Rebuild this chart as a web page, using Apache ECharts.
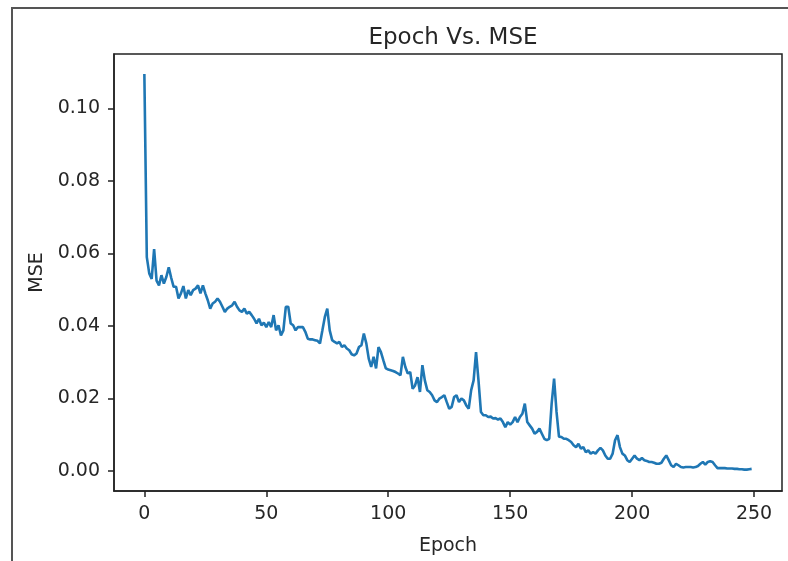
<!DOCTYPE html>
<html>
<head>
<meta charset="utf-8">
<script src="https://cdn.jsdelivr.net/npm/echarts@6/dist/echarts.min.js"></script>
<style>
  html, body { margin: 0; padding: 0; background: #fff; }
  #wrap { position: relative; width: 788px; height: 561px; }
  #chart { width: 788px; height: 561px; }
  /* screenshot frame, top and left edges only */
  #frame { position: absolute; left: 11px; top: 7px; right: 0; bottom: 0;
           border-top: 2px solid #555; border-left: 2px solid #555; pointer-events: none; }
</style>
</head>
<body>
<div id="wrap">
  <div id="chart"></div>
  <div id="frame"></div>
</div>
<script>
// chart texts
const titleText = 'Epoch Vs. MSE'
const xName = 'Epoch'
const yName = 'MSE'

// tick labels
const xTicks = [0, 50, 100, 150, 200, 250]
const yTicks = [0, 0.02, 0.04, 0.06, 0.08, 0.10]

// MSE per epoch, epochs 0..249
const mse = [
  0.1095, 0.0590, 0.0545, 0.0530, 0.0612, 0.0525, 0.0512, 0.0540, 0.0517, 0.0535,
  0.0562, 0.0533, 0.0508, 0.0508, 0.0476, 0.0490, 0.0510, 0.0476, 0.0499, 0.0485,
  0.0499, 0.0503, 0.0512, 0.0490, 0.0512, 0.0490, 0.0471, 0.0448, 0.0462, 0.0467,
  0.0476, 0.0467, 0.0453, 0.0439, 0.0448, 0.0453, 0.0457, 0.0467, 0.0453, 0.0443,
  0.0439, 0.0448, 0.0434, 0.0439, 0.0430, 0.0420, 0.0407, 0.0420, 0.0402, 0.0409,
  0.0397, 0.0411, 0.0397, 0.0430, 0.0388, 0.0402, 0.0374, 0.0388, 0.0453, 0.0453,
  0.0407, 0.0402, 0.0388, 0.0397, 0.0397, 0.0397, 0.0384, 0.0365, 0.0363, 0.0363,
  0.0361, 0.0359, 0.0352, 0.0388, 0.0425, 0.0448, 0.0388, 0.0361, 0.0356, 0.0352,
  0.0356, 0.0342, 0.0347, 0.0338, 0.0333, 0.0322, 0.0319, 0.0324, 0.0342, 0.0347,
  0.0379, 0.0352, 0.0310, 0.0287, 0.0315, 0.0283, 0.0342, 0.0328, 0.0305, 0.0283,
  0.0280, 0.0278, 0.0276, 0.0273, 0.0269, 0.0264, 0.0315, 0.0287, 0.0269, 0.0273,
  0.0227, 0.0236, 0.0259, 0.0218, 0.0292, 0.0250, 0.0223, 0.0218, 0.0209, 0.0195,
  0.0190, 0.0200, 0.0204, 0.0209, 0.0190, 0.0172, 0.0177, 0.0204, 0.0209, 0.0190,
  0.0200, 0.0195, 0.0181, 0.0172, 0.0223, 0.0250, 0.0328, 0.0250, 0.0163, 0.0154,
  0.0154, 0.0149, 0.0150, 0.0145, 0.0146, 0.0142, 0.0145, 0.0135, 0.0121, 0.0135,
  0.0128, 0.0135, 0.0149, 0.0135, 0.0149, 0.0158, 0.0186, 0.0135, 0.0126, 0.0117,
  0.0103, 0.0108, 0.0117, 0.0103, 0.0089, 0.0085, 0.0089, 0.0186, 0.0255, 0.0163,
  0.0095, 0.0094, 0.0089, 0.0089, 0.0085, 0.0080, 0.0071, 0.0066, 0.0075, 0.0062,
  0.0066, 0.0052, 0.0057, 0.0048, 0.0052, 0.0048, 0.0057, 0.0064, 0.0057, 0.0043,
  0.0034, 0.0034, 0.0048, 0.0085, 0.0099, 0.0066, 0.0048, 0.0043, 0.0030, 0.0025,
  0.0034, 0.0043, 0.0034, 0.0030, 0.0036, 0.0030, 0.0028, 0.0025, 0.0025, 0.0023,
  0.0020, 0.0020, 0.0023, 0.0034, 0.0043, 0.0030, 0.0016, 0.0011, 0.0020, 0.0016,
  0.0011, 0.0010, 0.0011, 0.0011, 0.0011, 0.0010, 0.0011, 0.0014, 0.0020, 0.0025,
  0.0018, 0.0025, 0.0027, 0.0025, 0.0016, 0.0008, 0.0008, 0.0008, 0.0008, 0.0007,
  0.0007, 0.0007, 0.0006, 0.0006, 0.0005, 0.0005, 0.0004, 0.0004, 0.0005, 0.0006
]
const epochs = mse.map((v, i) => i)

const font = 'DejaVu Sans'
const textCol = '#262626'

let chart = echarts.init(document.getElementById('chart'), null, { renderer: 'canvas' })

function getOption() {
  return {
    animation: false,
    title: {
      text: titleText,
      left: 448,
      textAlign: 'center',
      top: 22,
      textStyle: { fontFamily: font, fontSize: 23, fontWeight: 'normal', color: textCol }
    },
    grid: {
      left: 114, right: 6, top: 54, bottom: 70,
      show: true, borderColor: '#222', borderWidth: 1.5, backgroundColor: '#fff'
    },
    xAxis: {
      type: 'value',
      min: -12.45,
      max: 261.45,
      name: xName,
      nameLocation: 'middle',
      nameGap: 46,
      nameTextStyle: { fontFamily: font, fontSize: 19, color: textCol },
      splitLine: { show: false },
      axisLine: { show: true, onZero: false, lineStyle: { color: '#222', width: 1.5 } },
      axisTick: { show: true, length: 6, lineStyle: { color: '#222', width: 1.5 }, customValues: xTicks },
      axisLabel: { fontFamily: font, fontSize: 19, color: textCol, margin: 14, customValues: xTicks }
    },
    yAxis: {
      type: 'value',
      min: -0.0055,
      max: 0.115,
      name: yName,
      nameLocation: 'middle',
      nameGap: 67,
      nameRotate: 90,
      nameTextStyle: { fontFamily: font, fontSize: 19, color: textCol },
      splitLine: { show: false },
      axisLine: { show: true, onZero: false, lineStyle: { color: '#222', width: 1.5 } },
      axisTick: { show: true, length: 6, lineStyle: { color: '#222', width: 1.5 }, customValues: yTicks },
      axisLabel: {
        fontFamily: font, fontSize: 19, color: textCol, margin: 14, customValues: yTicks,
        formatter: v => v.toFixed(2)
      }
    },
    series: [
      {
        type: 'line',
        data: epochs.map((e, i) => [e, mse[i]]),
        showSymbol: false,
        lineStyle: { color: '#1f77b4', width: 2.6 },
        itemStyle: { color: '#1f77b4' }
      }
    ]
  }
}

chart.setOption(getOption())
</script>
</body>
</html>
